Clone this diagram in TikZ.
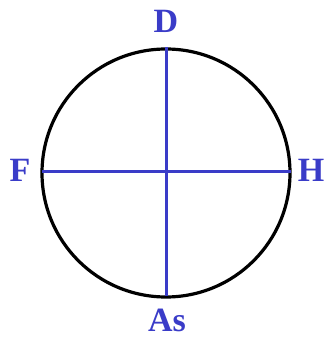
\documentclass[tikz,border=0pt]{standalone}
\usepackage{fontspec}
\setmainfont{Liberation Serif}
\definecolor{lblue}{RGB}{58,60,200}
\begin{document}
\begin{tikzpicture}[x=1pt,y=1pt,
  lbl/.style={text=lblue,font=\fontsize{34}{34}\selectfont\bfseries,inner sep=0pt,anchor=base},
  axis/.style={draw=lblue,line width=3pt}]
\useasboundingbox (0,0) rectangle (324,340);
\node[circle,draw=black,line width=3.2pt,minimum size=248pt,inner sep=0pt] (c) at (166,167) {};
\coordinate (top) at (166,293);
\coordinate (bot) at (166,44);
\coordinate (lft) at (42,168);
\coordinate (rgt) at (291,168);
\draw[axis] (top) -- (bot);
\draw[axis] (lft) -- (rgt);
\node[lbl] (D) at (166,307) {D};
\node[lbl] (F) at (20,158) {F};
\node[lbl] (H) at (311,158) {H};
\node[lbl] (As) at (167,9) {As};
\end{tikzpicture}
\end{document}
